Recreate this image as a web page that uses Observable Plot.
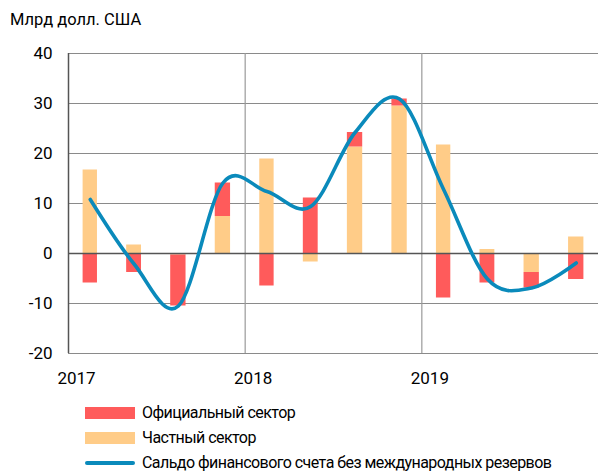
<!DOCTYPE html>
<html><head><meta charset="utf-8">
<script src="https://cdn.jsdelivr.net/npm/d3@7"></script>
<script src="https://cdn.jsdelivr.net/npm/@observablehq/plot@0.6"></script>
<style>
body{margin:0;background:#fff;font-family:Roboto,"DejaVu Sans",sans-serif;color:#000}
#title{font-size:16.5px;padding:10px 0 0 10px;line-height:20px;box-sizing:border-box;height:36px}
#legend{padding-left:85px;padding-top:4px}
.row{display:flex;align-items:center;height:25px;font-size:16px;letter-spacing:-0.55px;white-space:nowrap}
.sw{width:50px;height:12px;margin-right:7px;flex:none}
.ln{width:50px;height:4px;border-radius:2px;margin-right:7px;flex:none}
svg text{font-family:Roboto,"DejaVu Sans",sans-serif}
</style></head><body>
<div id="title">Млрд долл. США</div>
<div id="chart"></div>
<div id="legend"></div>
<script>
const quarters = ["2017Q1","2017Q2","2017Q3","2017Q4","2018Q1","2018Q2","2018Q3","2018Q4","2019Q1","2019Q2","2019Q3","2019Q4"];
const privateSector = [16.7, 1.7, -0.3, 7.4, 18.9, -1.7, 21.3, 29.5, 21.7, 0.8, -3.8, 3.3];
const officialSector = [-5.9, -3.8, -10.2, 6.7, -6.5, 11.1, 2.9, 1.4, -8.9, -5.9, -3.1, -5.2];
const balance = [10.8, -2.1, -10.5, 14.1, 12.4, 9.4, 24.2, 30.9, 12.8, -5.1, -6.9, -1.9];
const yTicks = [-20, -10, 0, 10, 20, 30, 40];
const years = [2017, 2018, 2019];
const seriesNames = ["Официальный сектор", "Частный сектор", "Сальдо финансового счета без международных резервов"];
const colors = {official: "#ff5b5b", private: "#ffcc88", line: "#0a8abb"};

function qStart(q){ const y = +q.slice(0,4), n = +q.slice(5)-1; return new Date(Date.UTC(y, n*3, 1)); }
function qEnd(q){ const s = qStart(q); return new Date(Date.UTC(s.getUTCFullYear(), s.getUTCMonth()+3, 1)); }
function qMid(q){ return new Date((+qStart(q) + +qEnd(q))/2); }

const bars = [];
quarters.forEach((q,i) => {
  bars.push({q, start: qStart(q), end: qEnd(q), sector: "private", value: privateSector[i]});
  bars.push({q, start: qStart(q), end: qEnd(q), sector: "official", value: officialSector[i]});
});
const linePts = quarters.map((q,i) => ({date: qMid(q), value: balance[i]}));
const yearDates = years.map(y => new Date(Date.UTC(y,0,1)));

const chart = Plot.plot({
  width: 598, height: 360,
  marginTop: 17, marginBottom: 43, marginLeft: 68, marginRight: 0,
  style: {fontSize: "17px", background: "#fff"},
  x: {type: "utc", domain: [new Date(Date.UTC(2017,0,1)), new Date(Date.UTC(2020,0,1))], axis: null},
  y: {domain: [-20, 40], axis: null},
  color: {domain: ["official","private"], range: [colors.official, colors.private]},
  marks: [
    Plot.ruleY(yTicks.filter(d => d !== 0), {y: d => d, stroke: "#8a8a8a", strokeWidth: 1}),
    Plot.ruleX(yearDates.slice(1), {x: d => d, stroke: "#9a9a9a", strokeWidth: 1.2}),
    Plot.rectY(bars, {x1: "start", x2: "end", y: "value", fill: "sector", insetLeft: 14.6, insetRight: 14.6}),
    Plot.ruleY([0], {stroke: "#555", strokeWidth: 1.5}),
    Plot.ruleX(yearDates.slice(0,1), {x: d => d, stroke: "#555", strokeWidth: 1.5}),
    Plot.line(linePts, {x: "date", y: "value", curve: "cardinal", stroke: colors.line, strokeWidth: 3.6, strokeLinecap: "round", strokeLinejoin: "round"}),
    Plot.text(yTicks, {x: yearDates[0], y: d => d, text: d => String(d), textAnchor: "end", dx: -16, fill: "#000"}),
    Plot.text(yearDates, {x: d => d, y: -20, text: d => String(d.getUTCFullYear()), textAnchor: "middle", dx: 8, dy: 25, fill: "#000"})
  ]
});
document.getElementById("chart").appendChild(chart);

const leg = document.getElementById("legend");
[[seriesNames[0], "sw", colors.official],[seriesNames[1], "sw", colors.private],[seriesNames[2], "ln", colors.line]].forEach(([t,c,col]) => {
  const r = document.createElement("div"); r.className = "row";
  const s = document.createElement("div"); s.className = c; s.style.background = col;
  const l = document.createElement("span"); l.textContent = t;
  r.appendChild(s); r.appendChild(l); leg.appendChild(r);
});
</script>
</body></html>
